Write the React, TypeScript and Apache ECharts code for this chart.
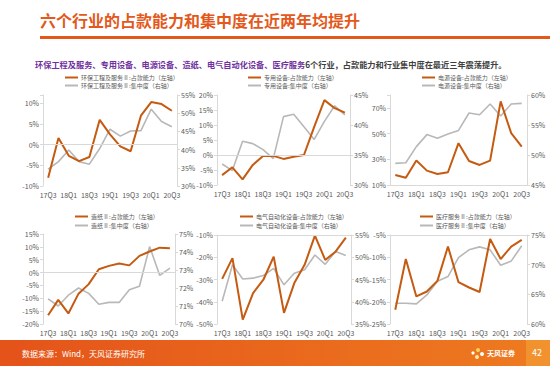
import React, { useEffect, useRef } from 'react';
import * as echarts from 'echarts';

const quarters = ['17Q3', '17Q4', '18Q1', '18Q2', '18Q3', '18Q4', '19Q1', '19Q2', '19Q3', '19Q4', '20Q1', '20Q2', '20Q3'];

const hbCapital = [-8, 1.6, -2.7, -4, -3, 6, 2.5, -0.4, -1.6, 7, 10.3, 9.8, 8.2];
const hbConc = [34.6, 36.7, 39.9, 36.7, 36, 40.3, 45.6, 43.7, 45.1, 45.2, 51.1, 47.7, 46.3];
const zyCapital = [-6.7, -4.1, -8.1, -3.3, -0.3, -0.3, -1.3, -0.6, 0, 9.4, 18.3, 15.6, 14.1];
const zyConc = [33.5, 32.4, 37.3, 36.9, 35.9, 34.4, 41.4, 41.8, 39.7, 37.6, 40.6, 43.2, 41.7];
const dyCapital = [17.8, 15.7, 29, 21.2, 18.6, 19.9, 42.5, 28.7, 25.6, 29, 75, 50.3, 39.9];
const dyConc = [48.6, 48.7, 51.4, 53.4, 52.8, 53.5, 54.1, 57, 56.7, 58.5, 56.5, 58.5, 58.6];
const zzCapital = [-16.6, -10.6, -15.9, -8.2, -4.5, 1.3, 2.6, 3.5, 2.8, 6.5, 8.2, 9.7, 9.5];
const zzConc = [71.4, 71.0, 71.6, 72.0, 71.7, 71.1, 71.2, 71.2, 71.9, 72.1, 74.3, 72.7, 73.1];
const dqCapital = [-29.7, -20.4, -48, -36.1, -30.1, -19.7, -45, -31.6, -23.4, -10.3, -21.2, -17.5, -11.2];
const dqConc = [40.1, 48.3, 45.1, 45.3, 45.9, 47.5, 43.8, 46.4, 47.2, 50.5, 48.4, 51.3, 50.4];
const ylCapital = [-21.8, -10.4, -18.8, -17.7, -15.3, -7.6, -15.6, -16.8, -17.8, -5.9, -10.4, -7.6, -6.1];
const ylConc = [63.5, 63.5, 63.4, 64.9, 67.2, 68, 71.2, 72.5, 73, 72.5, 69.9, 70.6, 73.2];

const titleText = '六个行业的占款能力和集中度在近两年均提升';
const subPurple = '环保工程及服务、专用设备、电源设备、造纸、电气自动化设备、医疗服务';
const subRest = '6个行业，占款能力和行业集中度在最近三年震荡提升。';
const sourceText = '数据来源：Wind，天风证券研究所';

const panels = [
  { n1: '环保工程及服务Ⅱ:占款能力（左轴）', n2: '环保工程及服务Ⅱ:集中度（右轴）', cap: hbCapital, conc: hbConc,
    grid: { left: 43, top: 95, width: 134, height: 91 }, la: { min: -10, max: 12, interval: 5 }, ra: { min: 30, max: 55, interval: 5 }, base: 0, lg: { left: 65, top: 74 } },
  { n1: '专用设备:占款能力（左轴）', n2: '专用设备:集中度（右轴）', cap: zyCapital, conc: zyConc,
    grid: { left: 217, top: 95, width: 133, height: 90 }, la: { min: -10, max: 20, interval: 5 }, ra: { min: 30, max: 45, interval: 5 }, base: 0, lg: { left: 248, top: 74 } },
  { n1: '电源设备:占款能力（左轴）', n2: '电源设备:集中度（右轴）', cap: dyCapital, conc: dyConc,
    grid: { left: 390, top: 95, width: 137, height: 90 }, la: { min: 10, max: 80, interval: 20 }, ra: { min: 45, max: 60, interval: 5 }, base: 10, lg: { left: 422, top: 74 } },
  { n1: '造纸Ⅱ:占款能力（左轴）', n2: '造纸Ⅱ:集中度（右轴）', cap: zzCapital, conc: zzConc,
    grid: { left: 43, top: 234, width: 132, height: 90 }, la: { min: -20, max: 15, interval: 5 }, ra: { min: 70, max: 75, interval: 1 }, base: 0, lg: { left: 75, top: 213 } },
  { n1: '电气自动化设备:占款能力（左轴）', n2: '电气自动化设备:集中度（右轴）', cap: dqCapital, conc: dqConc,
    grid: { left: 217, top: 235, width: 134, height: 89 }, la: { min: -50, max: -10, interval: 10 }, ra: { min: 35, max: 55, interval: 5 }, base: -10, lg: { left: 240, top: 213 } },
  { n1: '医疗服务Ⅱ:占款能力（左轴）', n2: '医疗服务Ⅱ:集中度（右轴）', cap: ylCapital, conc: ylConc,
    grid: { left: 390, top: 235, width: 137, height: 89 }, la: { min: -25, max: -5, interval: 5 }, ra: { min: 60, max: 75, interval: 5 }, base: -5, lg: { left: 420, top: 213 } },
];

const FONT = '"Noto Sans CJK SC", "Noto Sans", sans-serif';
const ORANGE = '#C55A11';
const GRAY = '#B8B8B8';
const AXIS = '#D9D9D9';
const LABEL = '#595959';

function yAxisFor(a: { min: number; max: number; interval: number }, gridIndex: number, position: string) {
  return {
    type: 'value', gridIndex, position, min: a.min, max: a.max, interval: a.interval,
    splitLine: { show: false },
    axisLine: { show: true, lineStyle: { color: AXIS } },
    axisTick: { show: true, length: 3, lineStyle: { color: AXIS } },
    axisLabel: {
      fontSize: 7, color: LABEL, fontFamily: FONT, margin: 4,
      formatter: (v: number) => (Math.abs((v - a.min) % a.interval) < 1e-9 ? `${Math.round(v)}%` : ''),
    },
  };
}

export default function App() {
  const ref = useRef<HTMLDivElement>(null);
  useEffect(() => {
    if (!ref.current) return;
    const chart = echarts.init(ref.current, null, { renderer: 'svg' });
    const grid: any[] = [];
    const xAxis: any[] = [];
    const yAxis: any[] = [];
    const series: any[] = [];
    const legend: any[] = [];
    panels.forEach((p, i) => {
      grid.push({ ...p.grid, containLabel: false });
      xAxis.push({
        type: 'category', gridIndex: i, data: quarters, boundaryGap: true,
        axisLine: { show: false }, axisTick: { show: false },
        axisLabel: { interval: 1, fontSize: 7, color: LABEL, fontFamily: FONT, margin: 5 },
      });
      yAxis.push(yAxisFor(p.la, i, 'left'));
      yAxis.push(yAxisFor(p.ra, i, 'right'));
      series.push({
        type: 'line', name: '_base' + i, xAxisIndex: i, yAxisIndex: i * 2, data: quarters.map(() => null),
        silent: true, z: 1, showSymbol: false,
        markLine: { silent: true, symbol: 'none', label: { show: false }, lineStyle: { color: AXIS, type: 'solid', width: 1 }, data: [{ yAxis: p.base }] },
      });
      series.push({
        type: 'line', name: p.n2, xAxisIndex: i, yAxisIndex: i * 2 + 1, data: p.conc, z: 2,
        showSymbol: false, lineStyle: { color: GRAY, width: 1.6 }, itemStyle: { color: GRAY },
      });
      series.push({
        type: 'line', name: p.n1, xAxisIndex: i, yAxisIndex: i * 2, data: p.cap, z: 3,
        showSymbol: false, lineStyle: { color: ORANGE, width: 2 }, itemStyle: { color: ORANGE },
      });
      legend.push({
        data: [p.n1, p.n2], orient: 'vertical', left: p.lg.left, top: p.lg.top, padding: 0,
        itemGap: i < 3 ? 1 : 2, itemWidth: 13, itemHeight: 2, icon: 'rect', selectedMode: false,
        textStyle: { fontSize: 6, color: LABEL, fontFamily: FONT, lineHeight: 7, padding: [0, 0, 0, -2] },
      });
    });

    const graphic: any[] = [
      { type: 'text', left: 40, top: 12, style: { text: titleText, fill: '#E3591C', font: `bold 16px ${FONT}` } },
      { type: 'rect', shape: { x: 40, y: 36, width: 510, height: 3 }, style: { fill: '#E3591C' } },
      {
        type: 'text', left: 35, top: 60,
        style: {
          text: `{a|${subPurple}}{b|${subRest}}`,
          rich: {
            a: { fill: '#7030A0', font: `bold 8.2px ${FONT}` },
            b: { fill: '#404040', font: `bold 8.2px ${FONT}` },
          },
        },
      },
      {
        type: 'rect', shape: { x: 0, y: 340, width: 550, height: 26 },
        style: { fill: new echarts.graphic.LinearGradient(0, 0, 1, 0, [{ offset: 0, color: '#E4531A' }, { offset: 1, color: '#EE7B20' }]) },
      },
      { type: 'rect', shape: { x: 526, y: 340, width: 24, height: 26 }, style: { fill: '#F2922E' } },
      { type: 'text', left: 22, top: 349, style: { text: sourceText, fill: '#FFFFFF', font: `8px ${FONT}` } },
      { type: 'circle', shape: { cx: 478, cy: 350, r: 2 }, style: { fill: '#FFD25A' } },
      { type: 'circle', shape: { cx: 482, cy: 354, r: 2 }, style: { fill: '#FFFFFF' } },
      { type: 'circle', shape: { cx: 477, cy: 357, r: 2 }, style: { fill: '#FFE9A0' } },
      { type: 'circle', shape: { cx: 473, cy: 353, r: 1.6 }, style: { fill: '#FFFFFF' } },
      { type: 'text', left: 487, top: 349, style: { text: '天风证券', fill: '#FFFFFF', font: `bold 7px ${FONT}` } },
      { type: 'text', left: 532, top: 348, style: { text: '42', fill: '#FFFFFF', font: `9px ${FONT}` } },
    ];

    chart.setOption({
      animation: false,
      backgroundColor: '#FFFFFF',
      textStyle: { fontFamily: FONT },
      grid, xAxis, yAxis, series, legend, graphic,
    });
    return () => chart.dispose();
  }, []);
  return <div ref={ref} style={{ position: 'fixed', left: 0, top: 0, width: 550, height: 366 }} />;
}
